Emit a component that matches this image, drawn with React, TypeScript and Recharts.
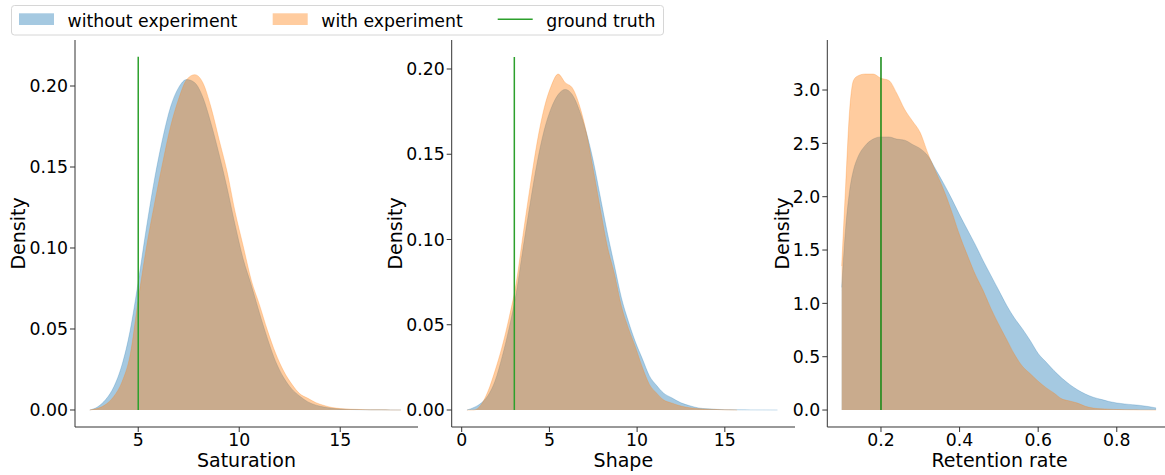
import React from 'react';
import { ComposedChart, Area, XAxis, YAxis, ReferenceLine } from 'recharts';

const FONT = '"DejaVu Sans", Verdana, sans-serif';
const BLUE = '#1f77b4';
const ORANGE = '#ff7f0e';
const GREEN = '#2ca02c';
const DARK_GREEN = '#118811';

// ---- Panel 1: Saturation ----
const satX = [2.6, 3.0, 3.4, 3.8, 4.2, 4.6, 5.0, 5.4, 5.8, 6.2, 6.6, 7.0, 7.4, 7.8, 8.2, 8.6, 9.0, 9.4, 9.8, 10.2, 10.6, 11.0, 11.4, 11.8, 12.2, 12.6, 13.0, 13.4, 13.8, 14.2, 14.6, 15.0, 15.5, 16.0, 16.5, 17.0, 17.5, 18.0];
const satWithout = [0, 0.002, 0.0066, 0.0145, 0.028, 0.049, 0.079, 0.112, 0.142, 0.167, 0.187, 0.199, 0.204, 0.202, 0.193, 0.177, 0.158, 0.137, 0.114, 0.093, 0.077, 0.060, 0.044, 0.030, 0.020, 0.013, 0.0085, 0.005, 0.003, 0.0018, 0.001, 0.0006, 0.0003, 0.0002, 0.0001, 0.0001, 0.00005, 0];
const satWith = [0, 0.001, 0.0035, 0.0085, 0.0175, 0.034, 0.068, 0.100, 0.127, 0.152, 0.175, 0.192, 0.204, 0.207, 0.202, 0.187, 0.167, 0.147, 0.122, 0.101, 0.080, 0.065, 0.049, 0.035, 0.024, 0.016, 0.010, 0.0072, 0.0045, 0.0028, 0.0015, 0.0009, 0.0005, 0.0003, 0.0001, 0.0001, 0, 0];
const satTicksX = [5, 10, 15];
const satTicksY = [0, 0.05, 0.1, 0.15, 0.2];

// ---- Panel 2: Shape ----
const shapeX = [0.3, 0.7, 1.1, 1.5, 1.9, 2.3, 2.7, 3.1, 3.5, 3.9, 4.3, 4.7, 5.1, 5.5, 5.9, 6.3, 6.7, 7.1, 7.5, 7.9, 8.3, 8.7, 9.1, 9.5, 9.9, 10.3, 10.7, 11.1, 11.5, 12.0, 12.5, 13.0, 13.5, 14.0, 14.5, 15.0, 15.7, 16.5, 17.3, 18.0];
const shapeWithout = [0, 0.0015, 0.004, 0.0085, 0.017, 0.031, 0.048, 0.068, 0.095, 0.121, 0.145, 0.164, 0.177, 0.185, 0.188, 0.185, 0.176, 0.163, 0.146, 0.125, 0.104, 0.085, 0.066, 0.052, 0.040, 0.030, 0.020, 0.0145, 0.010, 0.007, 0.0042, 0.0025, 0.0012, 0.0007, 0.0004, 0.0002, 0.0001, 0.00005, 0.00003, 0];
const shapeWith = [0, 0, 0.003, 0.011, 0.023, 0.037, 0.054, 0.074, 0.103, 0.131, 0.157, 0.177, 0.190, 0.197, 0.192, 0.189, 0.179, 0.163, 0.141, 0.118, 0.096, 0.080, 0.061, 0.048, 0.037, 0.025, 0.015, 0.010, 0.006, 0.004, 0.0023, 0.0013, 0.0008, 0.0005, 0.0003, 0.0001, 0, null, null, null];
const shapeTicksX = [0, 5, 10, 15];
const shapeTicksY = [0, 0.05, 0.1, 0.15, 0.2];

// ---- Panel 3: Retention rate ----
const retX = [0.10, 0.11, 0.12, 0.13, 0.14, 0.16, 0.18, 0.20, 0.22, 0.24, 0.26, 0.28, 0.30, 0.32, 0.34, 0.36, 0.38, 0.40, 0.42, 0.44, 0.46, 0.48, 0.50, 0.52, 0.54, 0.56, 0.58, 0.60, 0.62, 0.64, 0.66, 0.68, 0.70, 0.72, 0.74, 0.76, 0.78, 0.80, 0.82, 0.84, 0.86, 0.88, 0.90];
const retWithout = [1.15, 1.7, 2.05, 2.25, 2.36, 2.48, 2.54, 2.56, 2.56, 2.54, 2.53, 2.49, 2.45, 2.38, 2.25, 2.12, 1.98, 1.83, 1.69, 1.55, 1.40, 1.26, 1.12, 0.98, 0.86, 0.76, 0.65, 0.53, 0.45, 0.37, 0.30, 0.24, 0.19, 0.15, 0.12, 0.10, 0.08, 0.066, 0.057, 0.05, 0.043, 0.033, 0.02];
const retWith = [1.35, 2.1, 2.8, 3.09, 3.13, 3.15, 3.15, 3.11, 3.09, 2.97, 2.82, 2.71, 2.6, 2.4, 2.23, 2.06, 1.86, 1.64, 1.45, 1.27, 1.12, 0.95, 0.80, 0.66, 0.52, 0.41, 0.34, 0.27, 0.21, 0.16, 0.105, 0.085, 0.065, 0.035, 0.018, 0.012, 0.008, 0.005, 0.003, 0.002, 0.001, 0.0005, 0];
const retTicksX = [0.2, 0.4, 0.6, 0.8];
const retTicksY = [0, 0.5, 1.0, 1.5, 2.0, 2.5, 3.0];

// ground truth values
const truthValues = [5, 3, 0.2];
const truthTops = [0.218, 0.207, 3.31];

const legendLabels = ['without experiment', 'with experiment', 'ground truth'];

const build = (xs: number[], a: (number | null)[], b: (number | null)[]) =>
  xs.map((x, i) => ({ x, without: a[i], with: b[i] }));

const PLOT_TOP = 40;
const PLOT_BOTTOM = 427;
const H = 475;

type PanelProps = {
  left: number;
  yAxisWidth: number;
  plotWidth: number;
  marginRight: number;
  xDomain: [number, number];
  yDomain: [number, number];
  xTicks: number[];
  yTicks: number[];
  xDec: number;
  yDec: number;
  xLabel: string;
  yLabelDist: number;
  data: any[];
  truth: number;
  truthTop: number;
  truthColor: string;
};

function Panel(p: PanelProps) {
  const width = p.yAxisWidth + p.plotWidth + p.marginRight;
  const plotH = PLOT_BOTTOM - PLOT_TOP;
  const yl = () => {
    const cx = p.yAxisWidth - p.yLabelDist;
    const cy = PLOT_TOP + plotH / 2;
    return (
      <text x={cx} y={cy} transform={`rotate(-90 ${cx} ${cy})`} textAnchor="middle" dominantBaseline="central" fontSize={19} fontFamily={FONT} fill="#000">
        Density
      </text>
    );
  };
  const xl = () => {
    const cx = p.yAxisWidth + p.plotWidth / 2;
    return (
      <text x={cx} y={PLOT_BOTTOM + 40} textAnchor="middle" fontSize={19} fontFamily={FONT} fill="#000">
        {p.xLabel}
      </text>
    );
  };
  const tickStyle = { fontSize: 17.3, fill: '#000', fontFamily: FONT };
  return (
    <div style={{ position: 'absolute', left: p.left, top: 0 }}>
      <ComposedChart width={width} height={H} data={p.data} margin={{ top: PLOT_TOP, right: p.marginRight, bottom: 0, left: 0 }}>
        <XAxis
          dataKey="x"
          type="number"
          domain={p.xDomain}
          ticks={p.xTicks}
          interval={0}
          allowDataOverflow
          height={H - PLOT_BOTTOM}
          tickSize={5}
          tickMargin={2}
          tickFormatter={(v: number) => v.toFixed(p.xDec)}
          tick={tickStyle}
          axisLine={{ stroke: '#333', strokeWidth: 1 }}
          tickLine={{ stroke: '#333', strokeWidth: 1 }}
          label={{ content: xl }}
        />
        <YAxis
          type="number"
          domain={p.yDomain}
          ticks={p.yTicks}
          interval={0}
          allowDataOverflow
          width={p.yAxisWidth}
          tickSize={5}
          tickMargin={2}
          tickFormatter={(v: number) => v.toFixed(p.yDec)}
          tick={tickStyle}
          axisLine={{ stroke: '#333', strokeWidth: 1 }}
          tickLine={{ stroke: '#333', strokeWidth: 1 }}
          label={{ content: yl }}
        />
        <Area
          dataKey="without"
          type="monotone"
          baseValue={0}
          fill={BLUE}
          fillOpacity={0.4}
          stroke={BLUE}
          strokeOpacity={0.25}
          strokeWidth={1}
          dot={false}
          activeDot={false}
          isAnimationActive={false}
        />
        <Area
          dataKey="with"
          type="monotone"
          baseValue={0}
          fill={ORANGE}
          fillOpacity={0.4}
          stroke={ORANGE}
          strokeOpacity={0.25}
          strokeWidth={1}
          dot={false}
          activeDot={false}
          isAnimationActive={false}
        />
        <ReferenceLine
          segment={[{ x: p.truth, y: 0 }, { x: p.truth, y: p.truthTop }]}
          stroke={p.truthColor}
          strokeWidth={1.5}
        />
      </ComposedChart>
    </div>
  );
}

function LegendBox() {
  return (
    <svg width={680} height={40} style={{ position: 'absolute', left: 0, top: 0 }}>
      <rect x={11.5} y={5.5} width={652} height={29.5} rx={3} ry={3} fill="#fff" fillOpacity={0.8} stroke="#d6d6d6" strokeWidth={1} />
      <rect x={19} y={13.3} width={35} height={11.7} fill={BLUE} fillOpacity={0.4} />
      <text x={67.6} y={26.5} fontSize={17.3} fontFamily={FONT} fill="#000">{legendLabels[0]}</text>
      <rect x={272.7} y={13.3} width={35} height={11.7} fill={ORANGE} fillOpacity={0.4} />
      <text x={321.3} y={26.5} fontSize={17.3} fontFamily={FONT} fill="#000">{legendLabels[1]}</text>
      <line x1={497.7} y1={19.2} x2={532.7} y2={19.2} stroke={GREEN} strokeWidth={1.5} />
      <text x={546.3} y={26.5} fontSize={17.3} fontFamily={FONT} fill="#000">{legendLabels[2]}</text>
    </svg>
  );
}

export default function App() {
  return (
    <div style={{ position: 'fixed', left: 0, top: 0, width: 1165, height: H, overflow: 'hidden', background: '#fff' }}>
      <Panel
        left={0}
        yAxisWidth={75}
        plotWidth={343}
        marginRight={12}
        xDomain={[1.87, 18.85]}
        yDomain={[-0.0105, 0.2284]}
        xTicks={satTicksX}
        yTicks={satTicksY}
        xDec={0}
        yDec={2}
        xLabel="Saturation"
        yLabelDist={57.5}
        data={build(satX, satWithout, satWith)}
        truth={truthValues[0]}
        truthTop={truthTops[0]}
        truthColor={GREEN}
      />
      <Panel
        left={380}
        yAxisWidth={71.7}
        plotWidth={343.3}
        marginRight={12}
        xDomain={[-0.57, 19.0]}
        yDomain={[-0.00997, 0.217]}
        xTicks={shapeTicksX}
        yTicks={shapeTicksY}
        xDec={0}
        yDec={2}
        xLabel="Shape"
        yLabelDist={56.7}
        data={build(shapeX, shapeWithout, shapeWith)}
        truth={truthValues[1]}
        truthTop={truthTops[1]}
        truthColor={GREEN}
      />
      <Panel
        left={760}
        yAxisWidth={67.3}
        plotWidth={344.5}
        marginRight={0}
        xDomain={[0.0634, 0.94]}
        yDomain={[-0.159, 3.469]}
        xTicks={retTicksX}
        yTicks={retTicksY}
        xDec={1}
        yDec={1}
        xLabel="Retention rate"
        yLabelDist={45.6}
        data={build(retX, retWithout, retWith)}
        truth={truthValues[2]}
        truthTop={truthTops[2]}
        truthColor={DARK_GREEN}
      />
      <LegendBox />
    </div>
  );
}
